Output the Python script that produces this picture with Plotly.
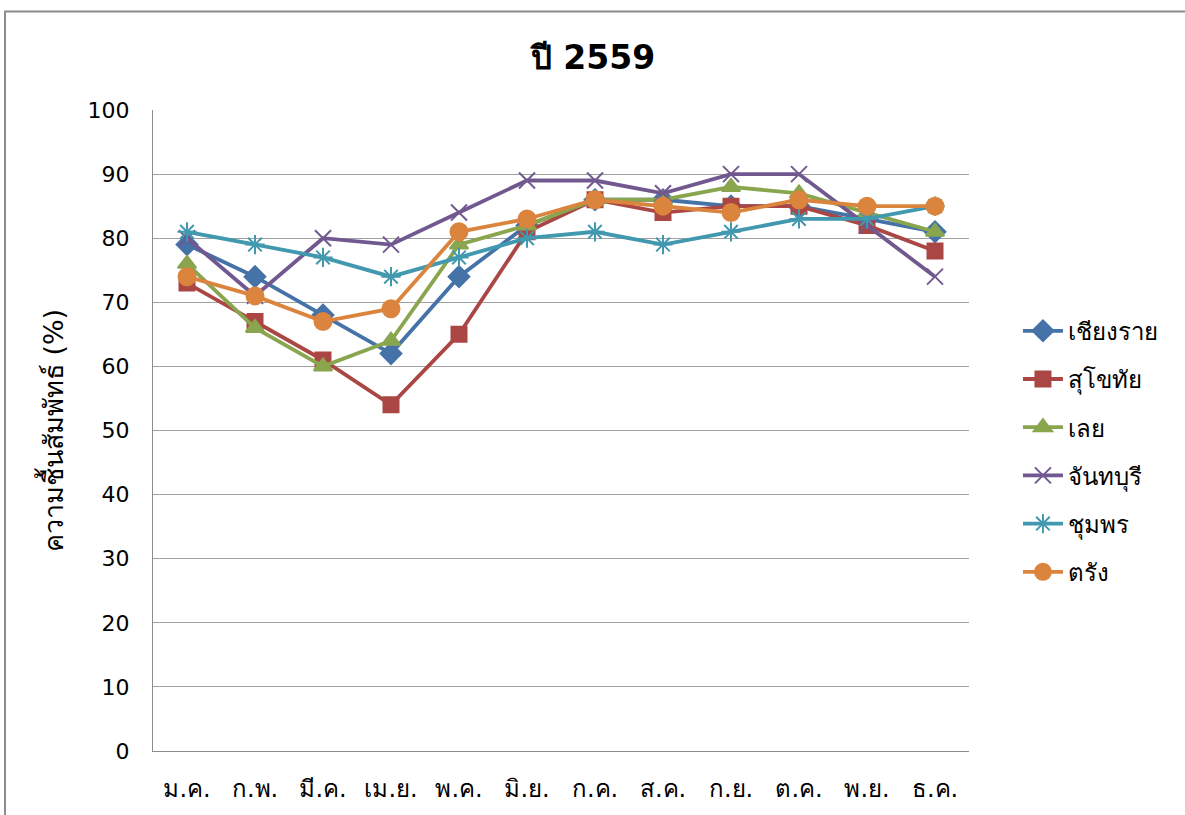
import plotly.graph_objects as go

months = ["ม.ค.", "ก.พ.", "มี.ค.", "เม.ย.", "พ.ค.", "มิ.ย.", "ก.ค.", "ส.ค.", "ก.ย.", "ต.ค.", "พ.ย.", "ธ.ค."]

chiang_rai = [79, 74, 68, 62, 74, 82, 86, 86, 85, 85, 83, 81]
sukhothai = [73, 67, 61, 54, 65, 81, 86, 84, 85, 85, 82, 78]
loei = [76, 66, 60, 64, 79, 82, 86, 86, 88, 87, 84, 81]
chanthaburi = [80, 71, 80, 79, 84, 89, 89, 87, 90, 90, 82, 74]
chumphon = [81, 79, 77, 74, 77, 80, 81, 79, 81, 83, 83, 85]
trang = [74, 71, 67, 69, 81, 83, 86, 85, 84, 86, 85, 85]

series = [
    ("เชียงราย", chiang_rai, "#4572A7", "diamond", 16),
    ("สุโขทัย", sukhothai, "#AA4643", "square", 15),
    ("เลย", loei, "#89A54E", "triangle-up", 16),
    ("จันทบุรี", chanthaburi, "#71588F", "x-thin-open", 16),
    ("ชุมพร", chumphon, "#4198AF", "asterisk-open", 16),
    ("ตรัง", trang, "#DB843D", "circle", 17),
]

FONT = "Tahoma, DejaVu Sans, Noto Sans, sans-serif"

fig = go.Figure()
for name, vals, color, symbol, size in series:
    fig.add_trace(go.Scatter(
        x=months, y=vals, name=name, mode="lines+markers", legendgroup=name,
        line=dict(color=color, width=3.8),
        marker=dict(symbol=symbol, size=size, color=color,
                    line=dict(color=color, width=2)),
    ))

fig.update_layout(
    width=1185, height=815,
    margin=dict(l=153, r=216, t=110, b=58),
    paper_bgcolor="white", plot_bgcolor="white",
    font=dict(family=FONT, size=18, color="black"),
    title=dict(text="<b>ปี 2559</b>", x=593 / 1185, xanchor="center",
               y=1 - 57 / 815, yanchor="middle", font=dict(size=33)),
    showlegend=True,
    legend=dict(x=1.06, xanchor="left", y=0.69, yanchor="top",
                font=dict(size=24), tracegroupgap=14, itemwidth=40,
                bgcolor="rgba(0,0,0,0)"),
    xaxis=dict(showgrid=False, showline=True, linecolor="#8C8C8C", linewidth=1,
               ticks="", tickfont=dict(size=24), ticklabelstandoff=16,
               range=[-0.5, 11.5]),
    yaxis=dict(range=[0, 100], dtick=10, showgrid=True, gridcolor="#A0A0A0",
               gridwidth=1, showline=True, linecolor="#8C8C8C", linewidth=1,
               zeroline=False, ticks="", tickfont=dict(size=22),
               ticklabelstandoff=18,
               title=dict(text="ความชื้นสัมพัทธ์ (%)", font=dict(size=27), standoff=16)),
    shapes=[dict(type="rect", xref="paper", yref="paper",
                 x0=-148 / 816, x1=1.35, y0=-0.3, y1=(754 - 11) / 644,
                 line=dict(color="#8C8C8C", width=2), fillcolor="rgba(0,0,0,0)",
                 layer="below")],
)

fig.write_html("out.html")
